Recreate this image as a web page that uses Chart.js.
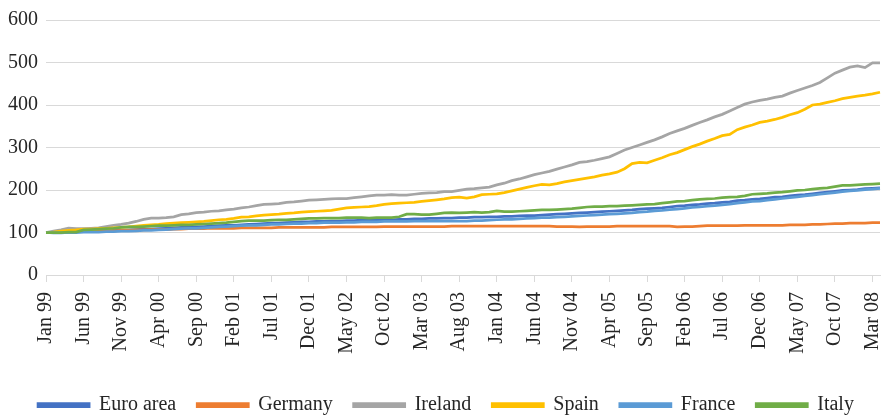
<!DOCTYPE html>
<html>
<head>
<meta charset="utf-8">
<script src="https://cdn.jsdelivr.net/npm/chart.js@4"></script>
<style>
  body { margin: 0; background: #fff; }
  #wrap { width: 884px; height: 416px; position: relative; }
</style>
</head>
<body>
<div id="wrap"><canvas id="myChart"></canvas></div>
<script>
const monthNames = ['Jan', 'Feb', 'Mar', 'Apr', 'May', 'Jun', 'Jul', 'Aug', 'Sep', 'Oct', 'Nov', 'Dec'];
const years = ['99', '00', '01', '02', '03', '04', '05', '06', '07', '08'];

// month labels Jan 99 .. Apr 08
const months = [];
years.forEach(y => monthNames.forEach(m => months.push(m + ' ' + y)));
months.length = 112;

const euroArea = [
  100, 100, 101, 101, 102, 102, 103, 103, 104, 105, 105, 106,
  107, 108, 108, 109, 110, 111, 112, 112, 113, 114, 115, 116,
  117, 117, 118, 119, 120, 121, 122, 122, 123, 124, 125, 125,
  126, 126, 127, 127, 128, 128, 129, 129, 130, 130, 130, 131,
  131, 132, 132, 133, 133, 134, 134, 135, 135, 136, 136, 137,
  137, 138, 138, 139, 140, 140, 141, 142, 143, 144, 145, 146,
  147, 148, 149, 150, 151, 152, 153, 155, 156, 157, 158, 160,
  162, 163, 165, 166, 168, 169, 171, 172, 175, 176, 178, 179,
  181, 183, 184, 186, 188, 189, 191, 193, 195, 197, 199, 200,
  201, 203, 204, 205
];

const germany = [
  100, 100, 101, 101, 102, 102, 103, 103, 104, 104, 105, 105,
  106, 106, 107, 107, 107, 108, 108, 109, 109, 109, 110, 110,
  110, 110, 111, 111, 111, 111, 111, 112, 112, 112, 112, 112,
  112, 112, 113, 113, 113, 113, 113, 113, 113, 114, 114, 114,
  114, 114, 114, 114, 114, 114, 115, 115, 115, 115, 115, 115,
  115, 115, 115, 115, 115, 115, 115, 115, 114, 114, 114, 113,
  114, 114, 114, 114, 115, 115, 115, 115, 115, 115, 115, 115,
  113, 114, 114, 115, 116, 116, 116, 116, 116, 117, 117, 117,
  117, 117, 117, 118, 118, 118, 119, 119, 120, 121, 121, 122,
  122, 122, 123, 123
];

const ireland = [
  100, 103, 106, 110, 109, 109, 110, 111, 114, 117, 119, 122,
  126, 131, 134, 134, 135, 137, 142, 144, 147, 148, 150, 151,
  153, 155, 158, 160, 163, 166, 167, 168, 171, 172, 174, 176,
  177, 178, 179, 180, 180, 182, 184, 186, 188, 188, 189, 188,
  188, 190, 192, 193, 194, 196, 196, 199, 202, 203, 205, 207,
  212, 216, 222, 226, 231, 236, 240, 244, 249, 254, 259, 265,
  267, 270, 274, 278, 286, 294, 300, 306, 312, 318, 325, 333,
  339, 345, 352, 359, 365, 372, 378, 386, 394, 402, 407, 411,
  414, 418, 421, 428, 434, 440, 446, 453, 464, 475, 482, 489,
  492, 488, 499, 499
];

const spain = [
  100, 101, 103, 105, 106, 108, 108, 109, 110, 111, 112, 113,
  115, 117, 118, 119, 121, 122, 123, 124, 125, 126, 128, 130,
  131, 133, 136, 137, 139, 141, 142, 143, 145, 146, 148, 149,
  150, 151, 152, 155, 158, 159, 160, 161, 163, 166, 168, 169,
  170, 171, 173, 175, 177, 179, 182, 183, 181, 184, 189, 190,
  191, 194, 198, 202, 206, 210, 213, 212, 215, 219, 222, 225,
  228, 231, 235, 238, 242, 250, 262, 265, 264, 270, 276, 283,
  288, 295, 302, 308, 315, 321, 328, 331, 342, 348, 353, 359,
  362, 366, 371, 377, 382, 390, 400, 402, 406, 410, 415, 418,
  421, 423, 426, 430
];

const france = [
  100, 99, 99, 100, 100, 101, 101, 101, 102, 102, 103, 103,
  104, 105, 105, 106, 107, 108, 109, 110, 110, 111, 112, 113,
  114, 115, 116, 117, 117, 118, 119, 119, 120, 121, 121, 122,
  122, 123, 123, 123, 124, 124, 125, 125, 125, 126, 126, 126,
  126, 127, 127, 127, 127, 127, 127, 127, 127, 128, 128, 129,
  130, 131, 131, 132, 133, 134, 135, 135, 136, 137, 138, 139,
  140, 141, 142, 143, 144, 145, 146, 148, 149, 151, 152, 154,
  155, 157, 159, 160, 162, 163, 165, 167, 169, 171, 173, 174,
  176, 178, 180, 182, 184, 186, 188, 190, 192, 194, 196, 198,
  199, 201, 202, 204
];

const italy = [
  100, 100, 100, 101, 101, 106, 107, 108, 109, 110, 112, 113,
  113, 114, 115, 116, 116, 117, 118, 118, 119, 120, 121, 122,
  123, 125, 127, 128, 128, 128, 129, 130, 130, 131, 132, 133,
  133, 134, 134, 134, 135, 135, 135, 134, 135, 135, 135, 137,
  143, 143, 142, 142, 144, 146, 147, 146, 147, 148, 147, 148,
  151, 149, 149, 150, 151, 152, 153, 153, 154, 155, 156, 158,
  160, 161, 161, 162, 162, 163, 164, 165, 166, 167, 169, 171,
  173, 174, 176, 178, 179, 180, 182, 183, 184, 186, 190, 191,
  192, 194, 195, 197, 199, 200, 202, 204, 205, 208, 211, 211,
  212, 213, 214, 215
];

const seriesNames = ['Euro area', 'Germany', 'Ireland', 'Spain', 'France', 'Italy'];
const seriesData = [euroArea, germany, ireland, spain, france, italy];
const seriesColors = ['#4472C4', '#ED7D31', '#A5A5A5', '#FFC000', '#5B9BD5', '#70AD47'];

const font = { family: "'Liberation Serif', 'DejaVu Serif', serif", size: 20 };

const datasets = seriesNames.map((name, i) => ({
  label: name,
  data: seriesData[i],
  borderColor: seriesColors[i],
  backgroundColor: seriesColors[i],
  borderWidth: 2.75,
  pointRadius: 0,
  tension: 0,
  fill: false,
  order: seriesNames.length - i
}));

// shrink the legend box so it sits close to the bottom edge, nudge it right a bit
const legendTweak = {
  id: 'legendTweak',
  beforeInit(chart) {
    const fit = chart.legend.fit;
    chart.legend.fit = function () {
      fit.call(this);
      this.height = 42;
    };
  },
  afterUpdate(chart) {
    chart.legend.left += 6;
    chart.legend.right += 6;
  }
};

const ctx = document.getElementById('myChart');
const chart = new Chart(ctx, {
  type: 'line',
  data: { labels: months, datasets: datasets },
  plugins: [legendTweak],
  options: {
    responsive: true,
    maintainAspectRatio: false,
    animation: false,
    layout: { padding: { top: 6, right: 4, left: 0, bottom: 0 } },
    plugins: {
      tooltip: { enabled: false },
      legend: {
        position: 'bottom',
        labels: {
          font: font,
          color: '#262626',
          boxWidth: 51,
          boxHeight: 3,
          padding: 21,
          sort: (a, b) => a.datasetIndex - b.datasetIndex
        }
      }
    },
    scales: {
      x: {
        offset: false,
        border: { color: '#d9d9d9' },
        grid: {
          drawOnChartArea: false,
          tickLength: 7,
          color: c => (c.index % 5 === 0 ? '#d9d9d9' : 'rgba(0,0,0,0)')
        },
        ticks: {
          autoSkip: false,
          maxRotation: 90,
          minRotation: 90,
          font: font,
          color: '#262626',
          padding: 10,
          callback: function (v, i) { return i % 5 === 0 ? this.getLabelForValue(v) : ''; }
        },
        afterFit(s) {
          s.paddingRight = 0;
          s.height = 99;
        }
      },
      y: {
        min: 0,
        max: 600,
        border: { display: false },
        grid: { color: '#d9d9d9', drawTicks: false },
        ticks: { stepSize: 100, font: font, color: '#262626', padding: 8 }
      }
    }
  }
});
</script>
</body>
</html>
